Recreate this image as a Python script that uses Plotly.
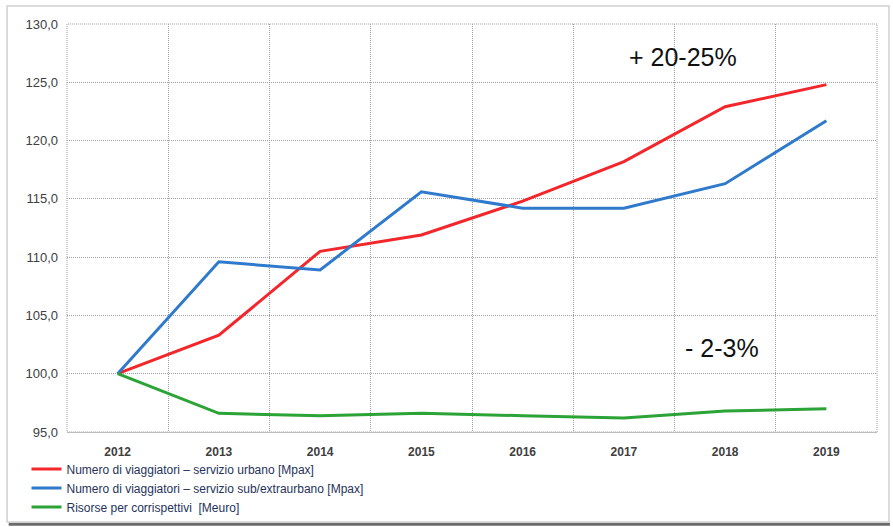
import plotly.graph_objects as go

years = ["2012", "2013", "2014", "2015", "2016", "2017", "2018", "2019"]
urbano = [100.0, 103.3, 110.5, 111.9, 114.8, 118.2, 122.9, 124.8]
extraurbano = [100.0, 109.6, 108.9, 115.6, 114.2, 114.2, 116.3, 121.7]
risorse = [100.0, 96.6, 96.4, 96.6, 96.4, 96.2, 96.8, 97.0]

names = [
    "Numero di viaggiatori – servizio urbano [Mpax]",
    "Numero di viaggiatori – servizio sub/extraurbano [Mpax]",
    "Risorse per corrispettivi  [Meuro]",
]
colors = ["#F2262B", "#2F7ACD", "#2BA337"]
y_ticks = [95, 100, 105, 110, 115, 120, 125, 130]

FONT = "Liberation Sans, Arial, sans-serif"
GRID = "#a0a0a0"
DOT = "1px,1px"

fig = go.Figure()
for vals, name, col in zip([urbano, extraurbano, risorse], names, colors):
    fig.add_trace(go.Scatter(x=years, y=vals, mode="lines", name=name,
                             line=dict(color=col, width=3)))

fig.update_layout(
    width=893, height=527,
    margin=dict(l=67, r=16, t=24, b=95, autoexpand=False),
    paper_bgcolor="white", plot_bgcolor="white",
    separators=",.",
    font=dict(family=FONT, size=11, color="#404040"),
    showlegend=True,
    legend=dict(orientation="v", x=-0.05, y=-0.055, xanchor="left", yanchor="top",
                font=dict(size=12, color="#26335a"), tracegroupgap=0,
                itemwidth=30, bgcolor="rgba(0,0,0,0)"),
    xaxis=dict(type="category", tickson="boundaries", showgrid=True,
               gridcolor=GRID, griddash=DOT, gridwidth=1,
               showline=True, linecolor="#bdbdbd", linewidth=1,
               ticks="", ticklabelstandoff=9,
               tickfont=dict(size=12, color="#404040", family=FONT, weight="bold"),
               range=[-0.5, 7.5], zeroline=False),
    yaxis=dict(range=[95, 130], tickvals=y_ticks, tickformat=".1f",
               showgrid=True, gridcolor=GRID, griddash=DOT, gridwidth=1,
               showline=False, zeroline=False, ticks="", ticklabelstandoff=8,
               tickfont=dict(size=13, color="#404040")),
    annotations=[
        dict(x=0.760, y=0.919, xref="paper", yref="paper", text="+ 20-25%",
             xanchor="center", yanchor="middle",
             showarrow=False, font=dict(size=25, color="#111111", family=FONT)),
        dict(x=0.809, y=0.206, xref="paper", yref="paper", text="- 2-3%",
             xanchor="center", yanchor="middle",
             showarrow=False, font=dict(size=25, color="#111111", family=FONT)),
    ],
    shapes=[
        dict(type="rect", xref="paper", yref="paper", x0=0, x1=1, y0=0, y1=1,
             line=dict(color=GRID, width=1, dash=DOT), layer="below"),
        dict(type="line", xref="paper", yref="paper", x0=-0.072, x1=1.016,
             y0=-0.226, y1=-0.226, line=dict(color="#6a6a6a", width=3)),
        dict(type="rect", xref="paper", yref="paper", x0=-0.074, x1=1.0148,
             y0=-0.2206, y1=1.044, line=dict(color="#d0d0d0", width=1.5)),
    ],
)

fig.write_html("out.html")
